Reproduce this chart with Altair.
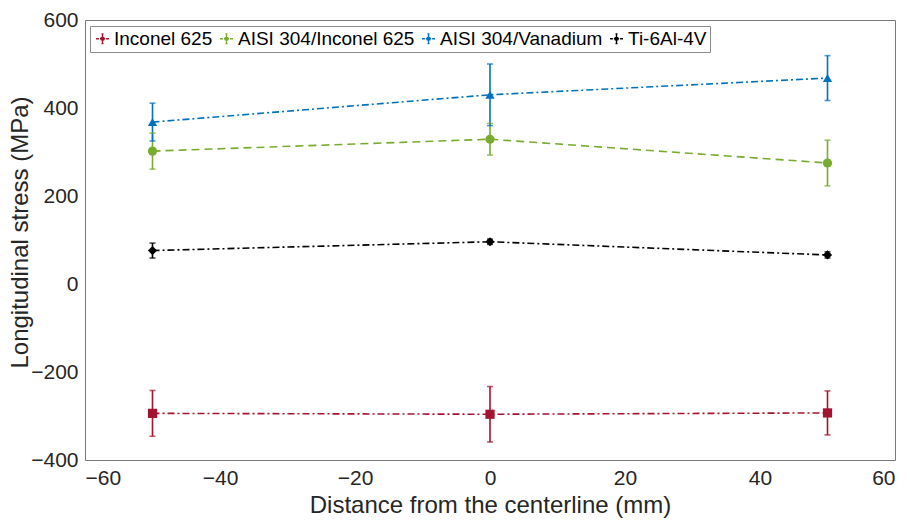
import altair as alt
import pandas as pd

series = ["Inconel 625", "AISI 304/Inconel 625", "AISI 304/Vanadium", "Ti-6Al-4V"]
colors = ["#A2142F", "#77AC30", "#0072BD", "#000000"]
shapes = ["square", "circle", "triangle-up", "diamond"]
dashes = [[7, 3, 2, 3], [8, 5], [7, 3, 2, 3], [7, 3, 2, 3]]

distance = [-50, 0, 50]
inconel = [-294, -296, -293]
inconel_err = [52, 63, 50]
aisi_inconel = [302, 329, 275]
aisi_inconel_err = [41, 36, 52]
aisi_vanadium = [368, 430, 468]
aisi_vanadium_err = [43, 70, 51]
ti64 = [76, 96, 66]
ti64_err = [17, 6, 7]

x_ticks = [-60, -40, -20, 0, 20, 40, 60]
y_ticks = [-400, -200, 0, 200, 400, 600]

rows = []
for k, (s, vals, errs) in enumerate(zip(
        series,
        [inconel, aisi_inconel, aisi_vanadium, ti64],
        [inconel_err, aisi_inconel_err, aisi_vanadium_err, ti64_err])):
    for x, v, e in zip(distance, vals, errs):
        rows.append(dict(series=s, k=k, x=x, y=v, lo=v - e, hi=v + e))
df = pd.DataFrame(rows)

FONT = "Liberation Sans"
LEG_PATH = ("M-1,0H-0.55M-0.4,0H-0.25M0.25,0H0.4M0.55,0H1"
            "M0,-0.75V0.75M-0.15,-0.75H0.15M-0.15,0.75H0.15"
            "M-0.18,-0.18H0.18V0.18H-0.18Z")

xenc = alt.X("x:Q", scale=alt.Scale(domain=[-60, 60], nice=False, zero=False),
             axis=alt.Axis(values=x_ticks, title="Distance from the centerline (mm)",
                           format="d"))
yenc = alt.Y("y:Q", scale=alt.Scale(domain=[-400, 600], nice=False, zero=False),
             axis=alt.Axis(values=y_ticks, title="Longitudinal stress (MPa)", format="d",
                           titleX=-53, titleY=212, titleBaseline="bottom", titleAngle=270))

legend = alt.Legend(
    title=None, orient="none", legendX=5, legendY=6, direction="horizontal", columns=4,
    symbolType=LEG_PATH, symbolSize=170, symbolStrokeWidth=1.4,
    labelFontSize=19, labelFont=FONT,
    labelColor="#000000", labelOffset=2, columnPadding=4, padding=3,
    strokeColor="#8c8c8c", fillColor="#ffffff", labelLimit=300,
)

cscale = alt.Scale(domain=series, range=colors)
color_leg = alt.Color("series:N", scale=cscale, legend=legend)
color_no = alt.Color("series:N", scale=cscale, legend=None)

base = alt.Chart(df)

rules = base.mark_rule(strokeWidth=1.6).encode(
    x=xenc, y=alt.Y("lo:Q", scale=alt.Scale(domain=[-400, 600], nice=False, zero=False)),
    y2="hi:Q", color=color_leg, order="k:Q",
)

lines = base.mark_line(strokeWidth=1.6).encode(
    x="x:Q", y=yenc, color=color_no,
    strokeDash=alt.StrokeDash("series:N", scale=alt.Scale(domain=series, range=dashes), legend=None),
    detail="series:N",
)

cap_lo = base.mark_tick(thickness=1.6, size=6, orient="horizontal").encode(
    x="x:Q", y="lo:Q", color=color_no)
cap_hi = base.mark_tick(thickness=1.6, size=6, orient="horizontal").encode(
    x="x:Q", y="hi:Q", color=color_no)

points = base.mark_point(filled=True, size=85, opacity=1).encode(
    x="x:Q", y="y:Q", color=color_no,
    shape=alt.Shape("series:N", scale=alt.Scale(domain=series, range=shapes), legend=None),
)

chart = alt.layer(rules, lines, cap_lo, cap_hi, points).resolve_legend(
    color="independent", shape="independent", strokeDash="independent",
).properties(
    width=810, height=440,
    autosize=alt.AutoSizeParams(type="none"),
    padding={"left": 85, "top": 20, "right": 15, "bottom": 62},
).configure_view(
    stroke="#7a7a7a", strokeWidth=1,
).configure_axis(
    labelFont=FONT, titleFont=FONT, labelFontSize=21, titleFontSize=24,
    labelColor="#262626", titleColor="#262626", titleFontWeight="normal",
    domain=False, ticks=False, grid=False, labelPadding=7,
).configure_axisX(
    titlePadding=5,
)

chart.save("out.html", embed_options={"renderer": "svg", "actions": False})
